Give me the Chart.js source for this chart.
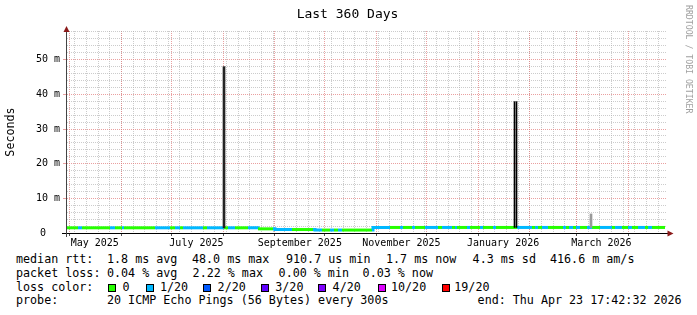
<!DOCTYPE html>
<html><head><meta charset="utf-8">
<script src="https://cdn.jsdelivr.net/npm/chart.js@4.4.1/dist/chart.umd.min.js"></script>
<style>
html,body{margin:0;padding:0;background:#fff;width:697px;height:315px;overflow:hidden;}
#wrap{position:relative;width:697px;height:315px;}
canvas{position:absolute;left:0;top:0;}
.t{position:absolute;font-family:"DejaVu Sans Mono",monospace;white-space:pre;color:#000;font-size:11.7px;line-height:14px;}
.box{position:absolute;width:8px;height:8px;box-sizing:border-box;border:1px solid #000;top:283.5px;}
#title{position:absolute;left:-1px;width:697px;text-align:center;top:5.8px;font-family:"DejaVu Sans Mono",monospace;font-size:13px;line-height:16px;color:#000;}
#wm{position:absolute;left:684px;top:5px;writing-mode:vertical-rl;font-family:"DejaVu Sans Mono",monospace;font-size:8.2px;line-height:9px;color:#a0a0a0;}
</style></head><body>
<div id="wrap">
<canvas id="c" width="697" height="250" style="width:697px;height:250px"></canvas>
<div id="title">Last 360 Days</div>
<div id="wm">RRDTOOL / TOBI OETIKER</div>

<div class="t" style="left:16px;top:252.2px">median rtt:</div>
<div class="t" style="left:107px;top:252.2px">1.8 ms avg</div>
<div class="t" style="left:192px;top:252.2px">48.0 ms max</div>
<div class="t" style="left:286px;top:252.2px">910.7 us min</div>
<div class="t" style="left:386px;top:252.2px">1.7 ms now</div>
<div class="t" style="left:472.6px;top:252.2px">4.3 ms sd</div>
<div class="t" style="left:550px;top:252.2px">416.6 m am/s</div>

<div class="t" style="left:16px;top:265.9px">packet loss:</div>
<div class="t" style="left:107px;top:265.9px">0.04 % avg</div>
<div class="t" style="left:192.6px;top:265.9px">2.22 % max</div>
<div class="t" style="left:278.6px;top:265.9px">0.00 % min</div>
<div class="t" style="left:362.6px;top:265.9px">0.03 % now</div>

<div class="t" style="left:16px;top:279.6px">loss color:</div>
<div id="lossLegend"></div>

<div class="t" style="left:16px;top:293.3px">probe:</div>
<div class="t" style="left:107px;top:293.3px">20 ICMP Echo Pings (56 Bytes) every 300s</div>
<div class="t" style="left:477.6px;top:293.3px">end: Thu Apr 23 17:42:32 2026</div>
</div>
<script>
// ---------------- data ----------------
const startUTC = Date.UTC(2025, 3, 28, 17, 42, 32);
const spanDays = 360;

const lossLabels = ['0', '1/20', '2/20', '3/20', '4/20', '10/20', '19/20'];
const lossColors = ['#26ff00', '#00b8ff', '#0059ff', '#5e00ff', '#7e00ff', '#dd00ff', '#ff0000'];

const runStartDay = [
  0, 7.2, 9.6, 26.4, 29.4, 33.6, 34.8, 53.4, 62.4, 65.4, 68.4, 70.2, 82.2, 84.6, 94.8, 97.2, 101.4, 109.2,
  115.2, 124.2,
  125.4, 135.6, 148.2,
  149.4, 153.6, 158.4, 160.8, 163.2, 165.6, 183.6,
  184.2, 194.4, 200.4, 202.2, 207.6, 209.4, 215.4, 223.2, 225.6, 231.6, 233.4, 234.6, 240.6, 242.4,
  248.4, 250.2, 256.2, 258, 270.6, 279.6, 281.4, 283.2, 285.6, 289.2, 298.2, 300, 301.8, 304.2, 306,
  308.4, 312.6, 315.6, 320.4, 327.6, 329.4, 333.6, 337.2, 339.6, 343.2, 347.4, 349.2, 351.6
];
const dataEndDay = 359.4;
const runMedianMs = [
  1.5, 1.5, 1.5, 1.5, 1.5, 1.5, 1.5, 1.5, 1.5, 1.5, 1.5, 1.5, 1.5, 1.5, 1.5, 1.5, 1.5, 1.5,
  1.2, 1.2,
  1.0, 1.0, 1.0,
  0.85, 0.85, 0.85, 0.85, 0.85, 0.85, 0.85,
  1.6, 1.6, 1.6, 1.6, 1.6, 1.6, 1.6, 1.6, 1.6, 1.6, 1.6, 1.6, 1.6, 1.6,
  1.6, 1.6, 1.6, 1.6, 1.6, 1.6, 1.6, 1.6, 1.6, 1.6, 1.6, 1.6, 1.6, 1.6, 1.6,
  1.6, 1.6, 1.6, 1.6, 1.6, 1.6, 1.6, 1.6, 1.6, 1.6, 1.6, 1.6, 1.6
];
const runLoss = [
  0, 1, 0, 1, 0, 1, 0, 1, 0, 1, 0, 1, 0, 1, 0, 1, 0, 1,
  0, 1,
  1, 0, 1,
  1, 0, 1, 0, 1, 0, 1,
  1, 0, 1, 0, 1, 0, 1, 0, 1, 0, 1, 0, 1, 0,
  1, 0, 1, 0, 1, 0, 1, 0, 1, 0, 1, 0, 1, 0, 1,
  0, 1, 0, 1, 0, 1, 0, 1, 0, 1, 0, 1, 0
];

const spikeDay = [94.8];
const spikeLowMs = [1.5];
const spikeHighMs = [48.0];
const spike2Day = [269.1, 270.3];
const spike2LowMs = [1.6, 1.6];
const spike2HighMs = [37.9, 37.9];
const smokeDay = [315.0];
const smokeLowMs = [1.6];
const smokeHighMs = [5.5];

const yMaxMs = 58.28;
const yTickStepMs = 2;
const yMajorStepMs = 10;
const monthStarts = [[2025,5],[2025,6],[2025,7],[2025,8],[2025,9],[2025,10],[2025,11],[2025,12],[2026,1],[2026,2],[2026,3],[2026,4]];
const monthLabels = ['May 2025', 'July 2025', 'September 2025', 'November 2025', 'January 2026', 'March 2026'];
const monthLabelAt = [[2025,5,16],[2025,7,16],[2025,9,16],[2025,11,16],[2026,1,16],[2026,3,16]];
const firstWeekLine = [2025, 5, 4];

// ---------------- build ----------------
const dayOf = (y, m, d) => (Date.UTC(y, m - 1, d) - startUTC) / 86400000;

const linePts = runStartDay.map((d, i) => ({x: d, y: runMedianMs[i]}));
linePts.push({x: dataEndDay, y: runMedianMs[runMedianMs.length - 1]});

const xTicks = [];
for (let d = dayOf(...firstWeekLine); d < spanDays; d += 7) xTicks.push({value: d, kind: 'week'});
monthLabels.forEach((l, i) => xTicks.push({value: dayOf(...monthLabelAt[i]), kind: 'label', lbl: l}));
monthStarts.forEach(m => { const d = dayOf(m[0], m[1], 1); if (d > 0 && d < spanDays) xTicks.push({value: d, kind: 'month'}); });

const yTicks = [];
for (let v = 0; v <= yMaxMs; v += yTickStepMs) yTicks.push({value: v});

const boxX = [108, 146, 203, 261, 318, 378, 441.7];
const lblX = [122.6, 160, 217.6, 275.3, 332.6, 391, 454.3];
const ll = document.getElementById('lossLegend');
lossLabels.forEach((l, i) => {
  const b = document.createElement('div'); b.className = 'box'; b.style.left = boxX[i] + 'px'; b.style.background = lossColors[i]; ll.appendChild(b);
  const t = document.createElement('div'); t.className = 't'; t.style.left = lblX[i] + 'px'; t.style.top = '279.6px'; t.textContent = l; ll.appendChild(t);
});

const GRID_MINOR = 'rgba(170,170,170,0.6)';
const GRID_MAJOR = 'rgba(225,120,120,0.7)';
const ARROW = '#8b1a1a';

const arrows = {
  id: 'arrows',
  afterDraw(chart) {
    const {ctx, chartArea: a} = chart;
    ctx.save();
    ctx.strokeStyle = '#000'; ctx.lineWidth = 1;
    ctx.beginPath(); ctx.moveTo(62, a.bottom + 0.5); ctx.lineTo(a.right + 2, a.bottom + 0.5); ctx.stroke();
    ctx.strokeStyle = '#444';
    ctx.beginPath(); ctx.moveTo(a.left + 0.5, a.bottom + 4); ctx.lineTo(a.left + 0.5, a.top - 2); ctx.stroke();
    ctx.fillStyle = ARROW;
    ctx.beginPath(); ctx.moveTo(a.left - 2.5, a.top + 1); ctx.lineTo(a.left + 3.5, a.top + 1); ctx.lineTo(a.left + 0.5, a.top - 5); ctx.closePath(); ctx.fill();
    ctx.beginPath(); ctx.moveTo(a.right + 1.5, a.bottom - 2.5); ctx.lineTo(a.right + 1.5, a.bottom + 3.5); ctx.lineTo(a.right + 7.5, a.bottom + 0.5); ctx.closePath(); ctx.fill();
    ctx.restore();
  }
};

Chart.defaults.font.family = '"DejaVu Sans Mono", monospace';
Chart.defaults.color = '#000';

new Chart(document.getElementById('c'), {
  data: {
    datasets: [
      {type: 'bar', data: spikeDay.map((d, i) => ({x: d, y: [spikeLowMs[i], spikeHighMs[i]]})), backgroundColor: '#242424', barThickness: 2, grouped: false, borderWidth: 0},
      {type: 'bar', data: spike2Day.map((d, i) => ({x: d, y: [spike2LowMs[i], spike2HighMs[i]]})), backgroundColor: '#000', barThickness: 1, grouped: false, borderWidth: 0},
      {type: 'bar', data: smokeDay.map((d, i) => ({x: d, y: [smokeLowMs[i], smokeHighMs[i]]})), backgroundColor: '#999', barThickness: 2, grouped: false, borderWidth: 0},
      {type: 'line', data: linePts, stepped: true, borderWidth: 3, pointRadius: 0, pointHoverRadius: 0, pointHitRadius: 0, fill: false,
       borderColor: lossColors[0],
       segment: {borderColor: c => lossColors[runLoss[Math.min(c.p0DataIndex, runLoss.length - 1)]]}}
    ]
  },
  options: {
    responsive: false, animation: false, events: [],
    layout: {padding: {left: 0, top: 31, right: 31, bottom: 0}, autoPadding: false},
    plugins: {legend: {display: false}, tooltip: {enabled: false}, title: {display: false}},
    scales: {
      x: {
        type: 'linear', min: 0, max: spanDays, position: 'bottom', offset: false,
        afterFit: s => { s.height = 17; s.paddingLeft = 0; s.paddingRight = 0; },
        afterBuildTicks: s => { s.ticks = xTicks.map(t => Object.assign({}, t)); },
        ticks: {autoSkip: false, maxRotation: 0, minRotation: 0, padding: 1, font: {size: 10},
                callback: (v, i, ts) => ts[i].lbl || ''},
        grid: {
          offset: false,
          color: c => c.tick ? (c.tick.kind === 'month' ? GRID_MAJOR : c.tick.kind === 'week' ? GRID_MINOR : 'rgba(0,0,0,0)') : GRID_MINOR,
          tickColor: c => c.tick && c.tick.kind === 'month' ? '#555' : 'rgba(0,0,0,0)',
          tickLength: 3, lineWidth: 1
        },
        border: {color: '#000', width: 1, dash: [1, 1]}
      },
      y: {
        type: 'linear', min: 0, max: yMaxMs, position: 'left',
        afterFit: s => { s.width = 66; s.paddingTop = 0; s.paddingBottom = 0; },
        afterBuildTicks: s => { s.ticks = yTicks.map(t => Object.assign({}, t)); },
        ticks: {autoSkip: false, padding: 3, font: {size: 10},
                callback: v => (Math.abs(v % yMajorStepMs) < 1e-9 ? (v === 0 ? '0\u2800\u2800' : v + ' m') : '')},
        grid: {
          color: c => c.tick && Math.abs(c.tick.value % yMajorStepMs) < 1e-9 ? GRID_MAJOR : GRID_MINOR,
          tickColor: c => c.tick && Math.abs(c.tick.value % yMajorStepMs) < 1e-9 ? GRID_MAJOR : 'rgba(0,0,0,0)',
          tickLength: 3, lineWidth: 1
        },
        border: {color: '#444', width: 1, dash: [1, 1]},
        title: {display: true, text: 'Seconds', font: {size: 11.7}, padding: {top: 4, bottom: 0}, color: '#000'}
      }
    }
  },
  plugins: [arrows]
});
</script>
</body></html>
